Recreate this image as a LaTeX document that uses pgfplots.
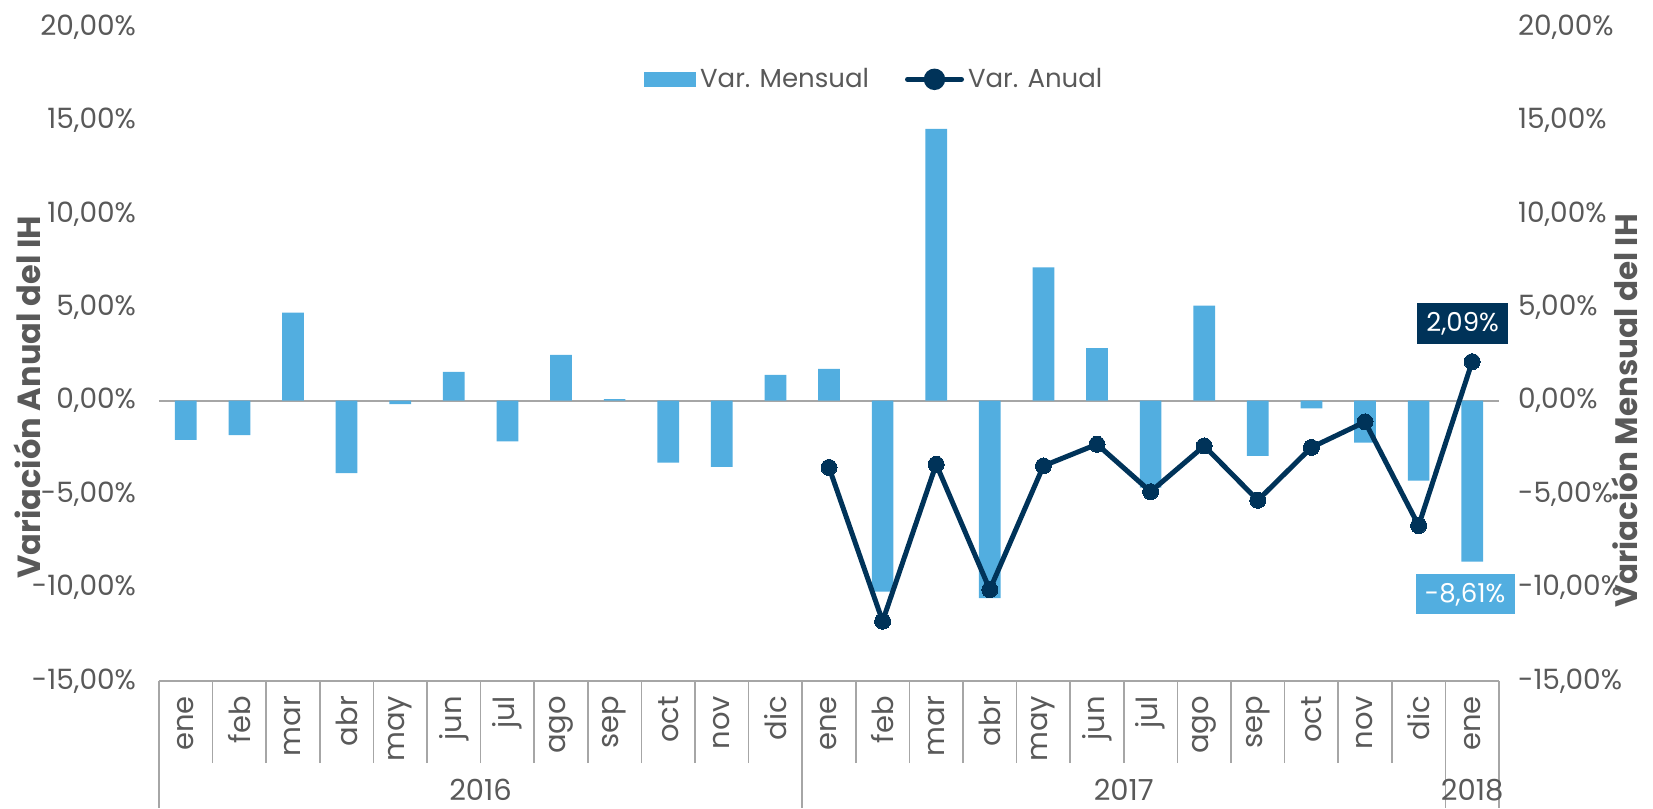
\documentclass[border=0pt]{standalone}
\usepackage{pgfplots}
\pgfplotsset{compat=1.18}
\usepackage{pgfplotstable}
\usepackage{fontspec}
\setmainfont{Poppins}
\definecolor{barblue}{HTML}{52AEE0}
\definecolor{navy}{HTML}{003359}
\definecolor{txt}{HTML}{595959}
\definecolor{lgray}{HTML}{A6A6A6}

\pgfplotstableread{
x m
0 -2.09
1 -1.84
2 4.71
3 -3.88
4 -0.18
5 1.54
6 -2.18
7 2.45
8 0.09
9 -3.31
10 -3.54
11 1.38
12 1.70
13 -10.22
14 14.55
15 -10.56
16 7.14
17 2.81
18 -4.65
19 5.09
20 -2.95
21 -0.41
22 -2.24
23 -4.28
24 -8.61
}\mensual

\pgfplotstableread{
x a
12 -3.57
13 -11.80
14 -3.40
15 -10.11
16 -3.49
17 -2.33
18 -4.87
19 -2.42
20 -5.33
21 -2.50
22 -1.13
23 -6.68
24 2.09
}\anual

\begin{document}
\begin{tikzpicture}
\useasboundingbox (-79.5pt,-63.5pt) rectangle (747pt,340.5pt);
\begin{axis}[
  scale only axis, width=670pt, height=327pt,
  xmin=-0.5, xmax=24.5, ymin=-15, ymax=20,
  clip=false,
  axis x line*=bottom, axis y line*=left,
  x axis line style={lgray, line width=1pt},
  y axis line style={draw=none},
  /pgf/number format/assume math mode=true,
  ytick={-15,-10,...,20},
  yticklabel={\pgfmathprintnumber[fixed,fixed zerofill,precision=2,use comma]{\tick}\%},
  yticklabel style={xshift=-8pt, font=\fontsize{14}{16}\selectfont},
  extra y ticks={0}, extra y tick labels={},
  extra y tick style={grid=major, major grid style={lgray, line width=1pt}},
  xtick={0,...,24},
  xticklabels={ene,feb,mar,abr,may,jun,jul,ago,sep,oct,nov,dic,ene,feb,mar,abr,may,jun,jul,ago,sep,oct,nov,dic,ene},
  xticklabel style={yshift=-4pt, rotate=90, anchor=east, font=\fontsize{14.5}{16}\selectfont},
  minor xtick={-0.5,0.5,...,24.5},
  major tick length=0pt, minor tick length=41pt, tick align=outside,
  minor tick style={lgray, line width=0.75pt},
  tick label style={text=txt},
  ylabel={Variación Anual del IH},
  ylabel style={at={(axis description cs:-0.0985,0.434)}, anchor=center, font=\fontsize{16}{18}\selectfont\bfseries, text=txt},
  legend style={at={(axis description cs:0.5345,0.92)}, anchor=center, draw=none, fill=none,
    font=\fontsize{13}{15}\selectfont, text=txt, legend columns=2,
    /tikz/every even column/.append style={column sep=16pt}},
]
\addplot[ybar, bar width=0.405, bar shift=0pt, fill=barblue, draw=none,
  legend image code/.code={\fill[barblue] (0pt,-3.65pt) rectangle (26pt,3.65pt);}]
  table[x=x,y=m]{\mensual};
\addlegendentry{Var. Mensual}
\addplot[navy, line width=2.5pt, mark=*, mark size=4pt, mark options={fill=navy, draw=navy, line width=0pt},
  legend image code/.code={\draw[navy, line width=2.5pt, line cap=round] (0pt,0pt) -- (27pt,0pt); \fill[navy] (13.5pt,0pt) circle (4.1pt);}]
  table[x=x,y=a]{\anual};
\addlegendentry{Var. Anual}
\addplot[draw=none, mark=none, forget plot, point meta=explicit symbolic, nodes near coords,
  nodes near coords style={fill=navy, text=white, anchor=center, yshift=19pt, xshift=-4.8pt, inner xsep=4.7pt, inner ysep=0pt, minimum height=20.3pt, font=\fontsize{13}{15}\selectfont}]
  coordinates {(24,2.09) [2,09\%]};
\addplot[draw=none, mark=none, forget plot, point meta=explicit symbolic, nodes near coords,
  nodes near coords style={fill=barblue, text=white, anchor=center, yshift=-16.4pt, xshift=-3.5pt, inner xsep=4.7pt, inner ysep=0pt, minimum height=20pt, font=\fontsize{13}{15}\selectfont}]
  coordinates {(24,-8.61) [-8,61\%]};
\draw[lgray, line width=0.75pt] (axis cs:-0.5,-15) -- ([yshift=-63.5pt]axis cs:-0.5,-15);
\draw[lgray, line width=0.75pt] (axis cs:11.5,-15) -- ([yshift=-63.5pt]axis cs:11.5,-15);
\draw[lgray, line width=0.75pt] (axis cs:23.5,-15) -- ([yshift=-63.5pt]axis cs:23.5,-15);
\draw[lgray, line width=0.75pt] (axis cs:24.5,-15) -- ([yshift=-63.5pt]axis cs:24.5,-15);
\node[text=txt, font=\fontsize{14.5}{16}\selectfont] at ([yshift=-54.5pt]axis cs:5.5,-15) {2016};
\node[text=txt, font=\fontsize{14.5}{16}\selectfont] at ([yshift=-54.5pt]axis cs:17.5,-15) {2017};
\node[text=txt, font=\fontsize{14.5}{16}\selectfont] at ([yshift=-54.5pt]axis cs:24,-15) {2018};
\end{axis}
\begin{axis}[
  scale only axis, width=670pt, height=327pt,
  xmin=-0.5, xmax=24.5, ymin=-15, ymax=20,
  clip=false,
  axis x line=none, axis y line*=right,
  y axis line style={draw=none},
  major tick length=0pt,
  /pgf/number format/assume math mode=true,
  ytick={-15,-10,...,20},
  yticklabel={\pgfmathprintnumber[fixed,fixed zerofill,precision=2,use comma]{\tick}\%},
  yticklabel style={xshift=6pt},
  tick label style={font=\fontsize{14}{16}\selectfont, text=txt},
  ylabel={Variación Mensual del IH},
  ylabel style={at={(axis description cs:1.0935,0.413)}, anchor=center, font=\fontsize{15.5}{17}\selectfont\bfseries, text=txt},
]
\end{axis}
\end{tikzpicture}
\end{document}
